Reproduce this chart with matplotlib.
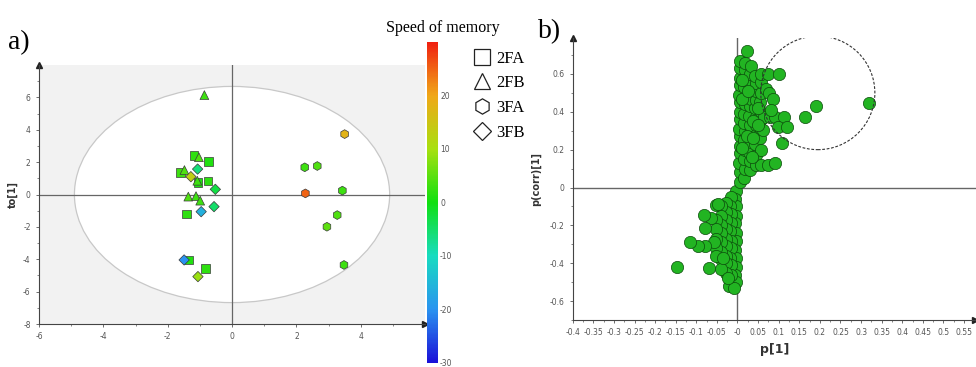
import numpy as np
import matplotlib
matplotlib.use('Agg')
import matplotlib.pyplot as plt
from matplotlib.colors import LinearSegmentedColormap, Normalize
from matplotlib.cm import ScalarMappable
from matplotlib.patches import Ellipse
from matplotlib.lines import Line2D

plt.rcParams['axes.unicode_minus'] = False

# a) OPLS-DA score plot, coloured by speed of memory
groups = ['2FA', '2FB', '3FA', '3FB']
group_markers = {'2FA': 's', '2FB': '^', '3FA': 'h', '3FB': 'D'}

fa2_t = [-1.18, -0.72, -1.61, -1.06, -0.75, -1.42, -1.36, -0.82]
fa2_to = [2.40, 2.05, 1.37, 0.75, 0.83, -1.20, -4.04, -4.56]
fa2_speed = [2, 1, 3, 1, 2, 2, 1, 2]

fb2_t = [-0.86, -1.03, -1.48, -1.08, -1.36, -1.12, -0.99]
fb2_to = [6.14, 2.30, 1.51, 0.85, -0.13, -0.10, -0.38]
fb2_speed = [3, 4, 4, 3, 4, 3, 3]

fa3_t = [3.50, 2.26, 2.65, 2.28, 3.43, 3.27, 2.95, 3.48]
fa3_to = [3.73, 1.68, 1.76, 0.07, 0.24, -1.27, -1.99, -4.35]
fa3_speed = [18, 3, 4, 25, 3, 4, 5, 3]

fb3_t = [-1.07, -1.28, -0.52, -0.56, -0.96, -1.49, -1.06]
fb3_to = [1.57, 1.10, 0.32, -0.75, -1.06, -4.04, -5.07]
fb3_speed = [-6, 13, -3, -5, -16, -20, 9]

score_data = {
    '2FA': (fa2_t, fa2_to, fa2_speed),
    '2FB': (fb2_t, fb2_to, fb2_speed),
    '3FA': (fa3_t, fa3_to, fa3_speed),
    '3FB': (fb3_t, fb3_to, fb3_speed),
}

# b) S-plot loadings: p[1] vs p(corr)[1]
p1_pos = [0.005, 0.006, 0.004, 0.007, 0.005, 0.006, 0.004, 0.006, 0.005, 0.007, 0.004, 0.006, 0.005, 0.007, 0.006,
          0.017, 0.018, 0.016, 0.019, 0.017, 0.018, 0.016, 0.017, 0.019, 0.018, 0.016, 0.017, 0.019, 0.018, 0.024,
          0.030, 0.031, 0.029, 0.032, 0.030, 0.031, 0.029, 0.030, 0.032, 0.031, 0.029, 0.030, 0.033,
          0.044, 0.045, 0.043, 0.046, 0.044, 0.045, 0.043, 0.046, 0.044, 0.045, 0.043,
          0.056, 0.057, 0.055, 0.058, 0.056, 0.057, 0.055, 0.058, 0.056, 0.057,
          0.073, 0.090, 0.065, 0.079, 0.090, 0.112, 0.099, 0.120, 0.109, 0.061, 0.069, 0.077, 0.087,
          0.081, 0.074, 0.100, 0.190, 0.164, 0.320,
          0.012, 0.024, 0.037, 0.050, 0.011, 0.025, 0.038, 0.050, 0.012, 0.036]
pcorr_pos = [0.03, 0.08, 0.13, 0.18, 0.22, 0.27, 0.31, 0.36, 0.40, 0.45, 0.49, 0.54, 0.58, 0.63, 0.67,
             0.05, 0.10, 0.15, 0.20, 0.25, 0.30, 0.34, 0.39, 0.44, 0.48, 0.53, 0.57, 0.62, 0.66, 0.72,
             0.09, 0.14, 0.19, 0.24, 0.29, 0.33, 0.38, 0.43, 0.47, 0.52, 0.56, 0.60, 0.64,
             0.12, 0.17, 0.23, 0.28, 0.33, 0.37, 0.42, 0.46, 0.51, 0.55, 0.59,
             0.12, 0.20, 0.26, 0.31, 0.36, 0.40, 0.45, 0.50, 0.56, 0.60,
             0.12, 0.13, 0.37, 0.37, 0.37, 0.37, 0.32, 0.32, 0.235, 0.305, 0.52, 0.50, 0.47,
             0.41, 0.60, 0.60, 0.43, 0.37, 0.445,
             0.21, 0.27, 0.35, 0.42, 0.47, 0.51, 0.26, 0.33, 0.57, 0.16]

p1_neg = [-0.004, -0.005, -0.003, -0.004, -0.005, -0.003, -0.004, -0.005, -0.003, -0.004, -0.005, -0.004,
          -0.016, -0.017, -0.015, -0.016, -0.017, -0.015, -0.016, -0.017, -0.015, -0.016, -0.020,
          -0.028, -0.029, -0.027, -0.028, -0.029, -0.027, -0.028, -0.029, -0.027, -0.008,
          -0.040, -0.041, -0.039, -0.040, -0.041, -0.039, -0.040, -0.041,
          -0.052, -0.053, -0.051, -0.052, -0.053, -0.051,
          -0.065, -0.081, -0.079, -0.058, -0.079, -0.097, -0.115, -0.069, -0.148, -0.047, -0.036, -0.024]
pcorr_neg = [-0.02, -0.06, -0.10, -0.15, -0.19, -0.24, -0.28, -0.33, -0.37, -0.42, -0.46, -0.50,
             -0.05, -0.10, -0.14, -0.19, -0.23, -0.28, -0.32, -0.37, -0.41, -0.46, -0.52,
             -0.08, -0.13, -0.17, -0.22, -0.27, -0.31, -0.36, -0.40, -0.45, -0.53,
             -0.10, -0.15, -0.20, -0.24, -0.29, -0.34, -0.38, -0.43,
             -0.09, -0.17, -0.22, -0.27, -0.32, -0.36,
             -0.16, -0.145, -0.215, -0.286, -0.31, -0.31, -0.286, -0.426, -0.42, -0.086, -0.37, -0.48]

speed_cmap = LinearSegmentedColormap.from_list(
    'speed', ['#1a10d8', '#2a94f0', '#18dcc0', '#10e010', '#a8e010', '#f0a818', '#f02010'])
norm = Normalize(vmin=-30, vmax=30)

tick_kw = dict(labelsize=5.5, labelcolor='#555555', color='#555555')
serif = ['Liberation Serif', 'DejaVu Serif']

fig = plt.figure(figsize=(9.76, 3.67), dpi=100)

# ---- panel a ----
ax = fig.add_axes([0.040, 0.117, 0.3955, 0.706])
ax.set_facecolor('#f2f2f2')
ax.add_patch(Ellipse((0, 0), 9.8, 13.35, facecolor='white', edgecolor='#c8c8c8', lw=0.9, zorder=0))
ax.axhline(0, color='#666666', lw=0.9, zorder=1)
ax.axvline(0, color='#666666', lw=0.9, zorder=1)
for g in groups:
    t, to, speed = score_data[g]
    size = 28 if group_markers[g] == 'D' else 40
    ax.scatter(t, to, c=speed, cmap=speed_cmap, norm=norm, marker=group_markers[g], s=size,
               edgecolors='#3a3a3a', linewidths=0.5, zorder=3)
ax.set_xlim(-6, 6)
ax.set_ylim(-8, 8)
ax.set_xticks(np.arange(-6, 5, 2))
ax.set_yticks(np.arange(-8, 7, 2))
ax.set_xticks(np.arange(-5, 6, 1), minor=True)
ax.set_yticks(np.arange(-7, 8, 1), minor=True)
ax.tick_params(which='major', length=2.5, width=0.6, **tick_kw)
ax.tick_params(which='minor', length=1.5, width=0.5, color='#555555')
for s in ['top', 'right']:
    ax.spines[s].set_visible(False)
for s in ['left', 'bottom']:
    ax.spines[s].set_color('#444444')
    ax.spines[s].set_linewidth(0.8)
ax.plot(1, 0, '>', color='#222222', ms=4, transform=ax.transAxes, clip_on=False)
ax.plot(0, 1, '^', color='#222222', ms=4, transform=ax.transAxes, clip_on=False)
ax.set_ylabel('to[1]', fontsize=7, fontweight='bold', color='#333333', labelpad=4)

# colour bar
cax = fig.add_axes([0.4375, 0.011, 0.0113, 0.875])
cb = fig.colorbar(ScalarMappable(norm=norm, cmap=speed_cmap), cax=cax, ticks=[-30, -20, -10, 0, 10, 20])
cb.outline.set_visible(False)
cax.tick_params(length=0, pad=1.5, **tick_kw)
fig.text(0.454, 0.924, 'Speed of memory', fontsize=11.5, family=serif, ha='center', va='center')

handles = [Line2D([], [], ls='none', marker=group_markers[g], ms=11 if g != '3FB' else 9,
                  mfc='none', mec='#222222', mew=0.9) for g in groups]
fig.legend(handles, groups, loc='upper left', bbox_to_anchor=(0.485, 0.862), frameon=False,
           prop={'family': serif, 'size': 12}, handlelength=1.0, handletextpad=0.35,
           labelspacing=0.52, borderpad=0, borderaxespad=0)

fig.text(0.008, 0.885, 'a)', fontsize=20, family=serif, va='center')

# ---- panel b ----
bx = fig.add_axes([0.5868, 0.128, 0.4132, 0.7685])
bx.axhline(0, color='#666666', lw=1.0, zorder=1)
bx.axvline(0, color='#666666', lw=1.0, zorder=1)
bx.scatter(p1_neg, pcorr_neg, s=78, c='#22b422', edgecolors='#0c4a0c', linewidths=0.5, zorder=3)
bx.scatter(p1_pos, pcorr_pos, s=78, c='#22b422', edgecolors='#0c4a0c', linewidths=0.5, zorder=3)
bx.add_patch(Ellipse((0.195, 0.50), 0.277, 0.60, facecolor='none', edgecolor='#333333',
                     ls=(0, (2.5, 1.5)), lw=0.8, zorder=4))
bx.set_xlim(-0.4, 0.579)
bx.set_ylim(-0.7, 0.79)
xt = np.round(np.arange(-0.4, 0.56, 0.05), 2)
bx.set_xticks(xt)
bx.set_xticklabels(['%g' % v for v in xt])
bx.set_xticks(np.round(np.arange(-0.375, 0.58, 0.025), 3), minor=True)
bx.set_yticks([-0.6, -0.4, -0.2, 0, 0.2, 0.4, 0.6])
bx.set_yticklabels(['-0.6', '-0.4', '-0.2', '0', '0.2', '0.4', '0.6'])
bx.set_yticks([-0.7, -0.5, -0.3, -0.1, 0.1, 0.3, 0.5, 0.7], minor=True)
bx.tick_params(which='major', length=2.5, width=0.6, **tick_kw)
bx.tick_params(which='minor', length=1.5, width=0.5, color='#555555')
for s in ['top', 'right']:
    bx.spines[s].set_visible(False)
for s in ['left', 'bottom']:
    bx.spines[s].set_color('#444444')
    bx.spines[s].set_linewidth(0.8)
bx.plot(0.997, 0, '>', color='#222222', ms=4, transform=bx.transAxes, clip_on=False)
bx.plot(0, 1, '^', color='#222222', ms=4, transform=bx.transAxes, clip_on=False)
bx.set_xlabel('p[1]', fontsize=9, fontweight='bold', color='#333333', labelpad=4)
bx.set_ylabel('p(corr)[1]', fontsize=7, fontweight='bold', color='#333333', labelpad=6)

fig.text(0.551, 0.915, 'b)', fontsize=20, family=serif, va='center')

fig.savefig('out.png', dpi=100)
